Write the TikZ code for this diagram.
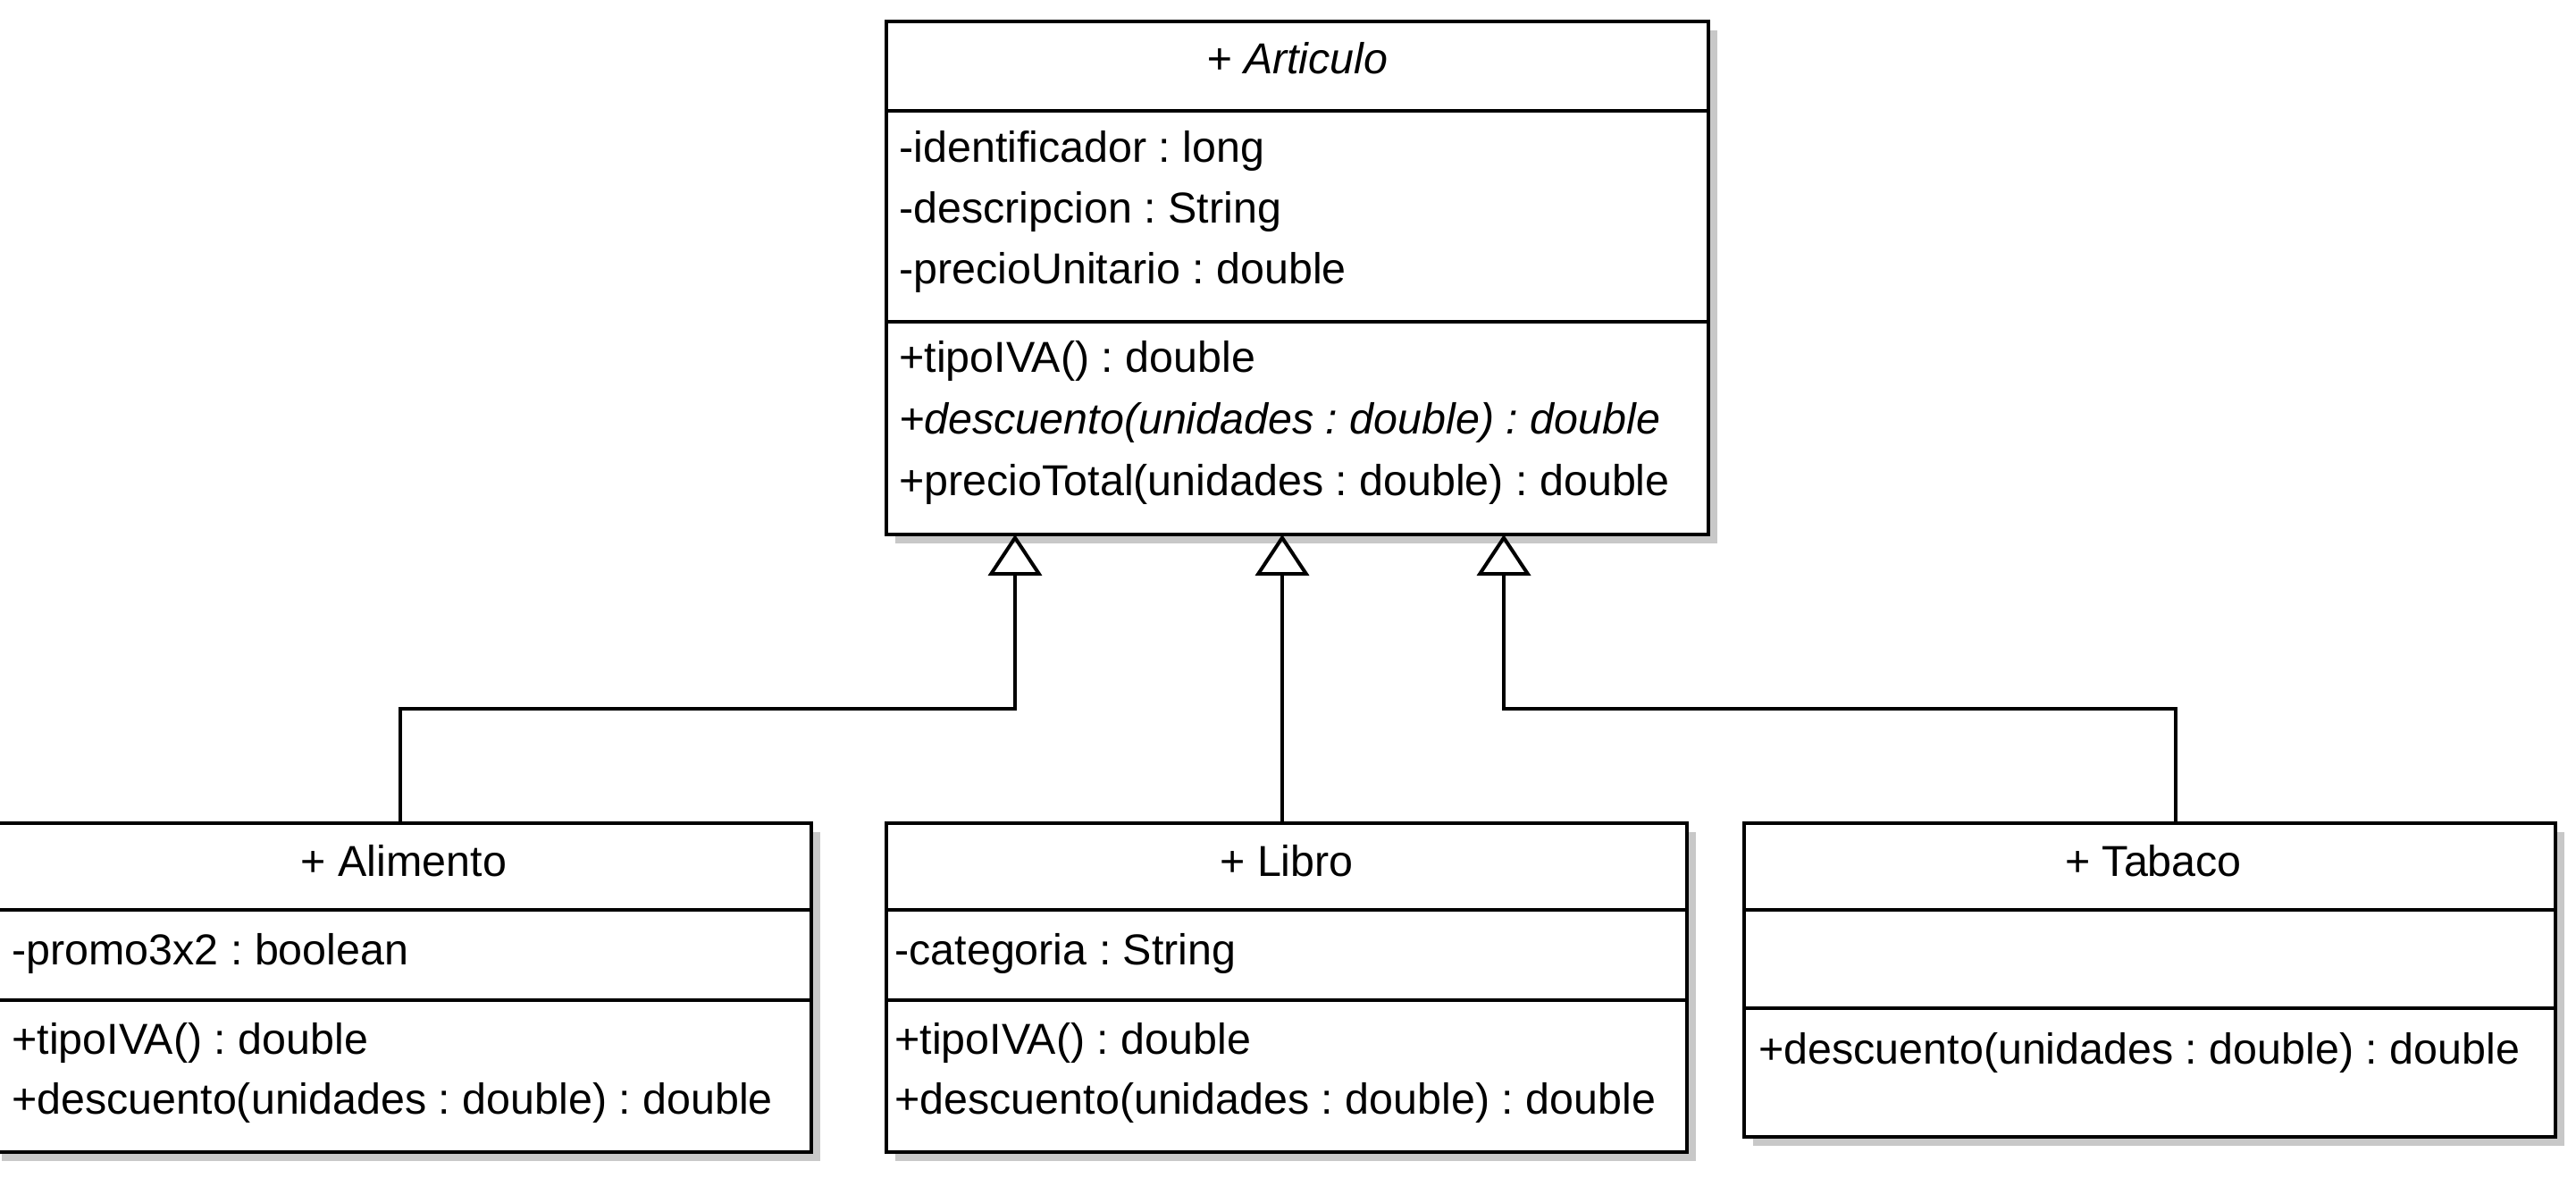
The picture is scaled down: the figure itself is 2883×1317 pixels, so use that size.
\documentclass[tikz,border=0pt]{standalone}
\usepackage{fontspec}
\setmainfont{Liberation Sans}
\frenchspacing
\usetikzlibrary{arrows.meta,shadows}
\tikzset{
  clase/.style={draw,line width=2pt,fill=white,inner sep=0pt,outer sep=0pt,
    drop shadow={shadow xshift=5pt,shadow yshift=-5pt,fill=black!30,opacity=0.7}},
  sep/.style={line width=2pt},
  fila/.style={anchor=base west,inner sep=0pt},
  titulo/.style={anchor=base,inner sep=0pt},
  herencia/.style={line width=2pt,-{Triangle[open,width=30pt,length=23pt]}},
}
\begin{document}
\begin{tikzpicture}[x=0.5pt,y=-0.5pt,font=\fontsize{24.2pt}{28pt}\selectfont]
\useasboundingbox (0,0) rectangle (2883,1317);
\fill[white] (0,0) rectangle (2883,1317);
%
% clases
\node[clase,minimum width=460pt,minimum height=287pt] (art) at (1452,311) {};
\node[clase,minimum width=458pt,minimum height=184pt] (ali) at (450,1105) {};
\node[clase,minimum width=448pt,minimum height=184pt] (lib) at (1440,1105) {};
\node[clase,minimum width=454pt,minimum height=175.5pt] (tab) at (2406,1096.5) {};
%
% compartimentos
\draw[sep]([yshift=-50pt]art.north west)--([yshift=-50pt]art.north east);
\draw[sep]([yshift=-168pt]art.north west)--([yshift=-168pt]art.north east);
\draw[sep]([yshift=-48.5pt]ali.north west)--([yshift=-48.5pt]ali.north east);
\draw[sep]([yshift=-99pt]ali.north west)--([yshift=-99pt]ali.north east);
\draw[sep]([yshift=-48.5pt]lib.north west)--([yshift=-48.5pt]lib.north east);
\draw[sep]([yshift=-99pt]lib.north west)--([yshift=-99pt]lib.north east);
\draw[sep]([yshift=-48.5pt]tab.north west)--([yshift=-48.5pt]tab.north east);
\draw[sep]([yshift=-103.5pt]tab.north west)--([yshift=-103.5pt]tab.north east);
%
% Articulo
\node[titulo](art-n) at (1452,82){\itshape + Articulo};
\node[fila](art-a1) at (1006,181){-identificador : long};
\node[fila](art-a2) at (1006,249){-descripcion : String};
\node[fila](art-a3) at (1006,317){-precioUnitario : double};
\node[fila](art-m1) at (1006,416){+tipoIVA() : double};
\node[fila](art-m2) at (1006,485){\itshape +descuento(unidades : double) : double};
\node[fila](art-m3) at (1006,554){+precioTotal(unidades : double) : double};
%
% Alimento
\node[titulo](ali-n) at (452,980){+ Alimento};
\node[fila](ali-a1) at (13,1079){-promo3x2 : boolean};
\node[fila](ali-m1) at (13,1179){+tipoIVA() : double};
\node[fila](ali-m2) at (13,1246){+descuento(unidades : double) : double};
%
% Libro
\node[titulo](lib-n) at (1440,980){+ Libro};
\node[fila](lib-a1) at (1001,1079){-categoria : String};
\node[fila](lib-m1) at (1001,1179){+tipoIVA() : double};
\node[fila](lib-m2) at (1001,1246){+descuento(unidades : double) : double};
%
% Tabaco
\node[titulo](tab-n) at (2410,980){+ Tabaco};
\node[fila](tab-m1) at (1968,1190){+descuento(unidades : double) : double};
%
% herencia
\coordinate (hA) at (1136,598);
\coordinate (hC) at (1683,598);
\draw[herencia]([xshift=-1pt]ali.north)--++(0,-128)-|(hA);
\draw[herencia]([xshift=-2.5pt]lib.north)--([xshift=-2.5pt]lib.north|-art.south);
\draw[herencia]([xshift=14.5pt]tab.north)--++(0,-128)-|(hC);
\end{tikzpicture}
\end{document}
